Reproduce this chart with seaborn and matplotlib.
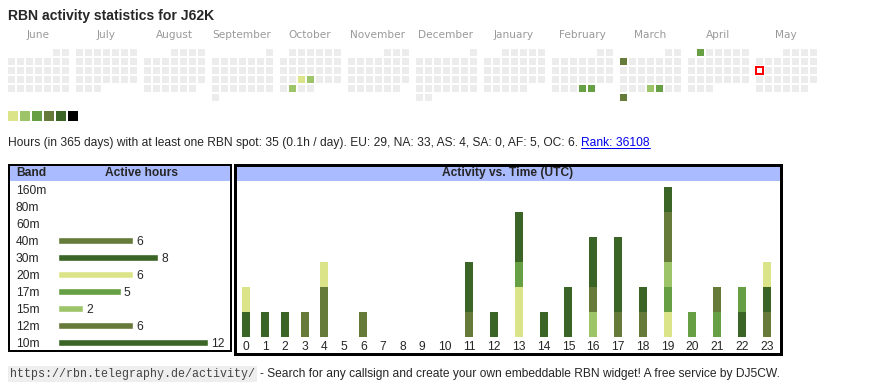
import datetime as dt
import calendar
import numpy as np
import pandas as pd
import matplotlib
matplotlib.use("Agg")
import matplotlib.pyplot as plt
from matplotlib.colors import ListedColormap
from matplotlib.patches import Rectangle
from matplotlib.lines import Line2D
import seaborn as sns

# ------------------------------------------------------------------ data
callsign = "J62K"
month_labels = ["June", "July", "August", "September", "October", "November",
                "December", "January", "February", "March", "April", "May"]
first_year, first_month = 2024, 6
active_days = ["2024-10-23", "2024-10-24", "2024-10-29", "2025-02-27", "2025-02-28",
               "2025-03-03", "2025-03-27", "2025-03-28", "2025-03-31", "2025-04-01"]
active_levels = [1, 2, 2, 3, 3, 4, 2, 3, 4, 3]
today = "2025-05-12"
level_colors = ["#dce48a", "#9ec46a", "#67a044", "#667a3a", "#3b6526", "#000000"]
empty_color = "#ececec"

info_text = ("Hours (in 365 days) with at least one RBN spot: 35 (0.1h / day). "
             "EU: 29, NA: 33, AS: 4, SA: 0, AF: 5, OC: 6.")
rank_text = "Rank: 36108"

bands = ["160m", "80m", "60m", "40m", "30m", "20m", "17m", "15m", "12m", "10m"]
band_hours = [0, 0, 0, 6, 8, 6, 5, 2, 6, 12]
band_colors = ["#dce48a", "#9ec46a", "#67a044", "#667a3a", "#3b6526",
               "#dce48a", "#67a044", "#9ec46a", "#667a3a", "#3b6526"]

hour_labels = [str(h) for h in range(24)]
#          0  1  2  3  4  5  6  7  8  9 10 11 12 13 14 15 16 17 18 19 20 21 22 23
act_160m = [0, 0, 0, 0, 0, 0, 0, 0, 0, 0, 0, 0, 0, 0, 0, 0, 0, 0, 0, 0, 0, 0, 0, 0]
act_80m  = [0, 0, 0, 0, 0, 0, 0, 0, 0, 0, 0, 0, 0, 0, 0, 0, 0, 0, 0, 0, 0, 0, 0, 0]
act_60m  = [0, 0, 0, 0, 0, 0, 0, 0, 0, 0, 0, 0, 0, 0, 0, 0, 0, 0, 0, 0, 0, 0, 0, 0]
act_40m  = [0, 0, 0, 1, 2, 0, 1, 0, 0, 0, 0, 0, 0, 0, 0, 0, 0, 0, 1, 0, 0, 0, 0, 1]
act_30m  = [1, 1, 1, 0, 0, 0, 0, 0, 0, 0, 0, 0, 1, 0, 1, 0, 0, 0, 1, 0, 0, 0, 1, 1]
act_20m  = [1, 0, 0, 0, 1, 0, 0, 0, 0, 0, 0, 0, 0, 2, 0, 0, 0, 0, 0, 1, 0, 0, 0, 1]
act_17m  = [0, 0, 0, 0, 0, 0, 0, 0, 0, 0, 0, 0, 0, 1, 0, 0, 0, 0, 0, 1, 1, 1, 1, 0]
act_15m  = [0, 0, 0, 0, 0, 0, 0, 0, 0, 0, 0, 0, 0, 0, 0, 0, 1, 0, 0, 1, 0, 0, 0, 0]
act_12m  = [0, 0, 0, 0, 0, 0, 0, 0, 0, 0, 0, 1, 0, 0, 0, 0, 1, 1, 0, 2, 0, 1, 0, 0]
act_10m  = [0, 0, 0, 0, 0, 0, 0, 0, 0, 0, 0, 2, 0, 2, 0, 2, 2, 3, 0, 1, 0, 0, 0, 0]
activity = [act_160m, act_80m, act_60m, act_40m, act_30m,
            act_20m, act_17m, act_15m, act_12m, act_10m]

footer_url = "https://rbn.telegraphy.de/activity/"
footer_text = "- Search for any callsign and create your own embeddable RBN widget! A free service by DJ5CW."

# ------------------------------------------------------------------ setup
sns.set_style("white")
plt.rcParams["font.family"] = ["Liberation Sans", "DejaVu Sans"]

W, H = 870, 390
PT = 0.72  # points per pixel at dpi 100
fig = plt.figure(figsize=(W / 100, H / 100), dpi=100)
fig.patch.set_facecolor("white")


def fx(x):
    return x / W


def fy(y):
    return 1 - y / H


def rect(l, t, w, h):
    return [l / W, 1 - (t + h) / H, w / W, h / H]


renderer = fig.canvas.get_renderer()

# title
fig.text(fx(8), fy(20), f"RBN activity statistics for {callsign}",
         fontsize=14 * PT, fontweight="bold", va="baseline", ha="left")

# ------------------------------------------------------------------ calendar
cmap = ListedColormap([empty_color] + level_colors)
level_by_day = {dt.date.fromisoformat(d): lv for d, lv in zip(active_days, active_levels)}
today_d = dt.date.fromisoformat(today)
CELL = 9
for m, label in enumerate(month_labels):
    year = first_year + (first_month - 1 + m) // 12
    month = (first_month - 1 + m) % 12 + 1
    fw = dt.date(year, month, 1).weekday()
    nd = calendar.monthrange(year, month)[1]
    grid = np.full((6, 7), np.nan)
    today_cell = None
    for d in range(1, nd + 1):
        r, c = divmod(fw + d - 1, 7)
        day = dt.date(year, month, d)
        grid[r, c] = level_by_day.get(day, 0)
        if day == today_d:
            today_cell = (r, c)
    left = 7 + m * 68
    ax = fig.add_axes(rect(left, 48, 7 * CELL, 6 * CELL))
    sns.heatmap(grid, mask=np.isnan(grid), cmap=cmap, vmin=-0.5, vmax=6.5,
                cbar=False, linewidths=2 * PT, linecolor="white",
                xticklabels=False, yticklabels=False, ax=ax)
    ax.set_axis_off()
    if today_cell is not None:
        r, c = today_cell
        ax.add_patch(Rectangle((c + 0.5 - 0.36, r + 0.5 - 0.36), 0.72, 0.72,
                               facecolor="white", edgecolor="red", lw=2 * PT))
    fig.text(fx(left + 7 * CELL / 2 - 0.5), fy(35.5), label, fontsize=10.5 * PT,
             color="#9a9a9a", ha="center", va="center",
             family=["DejaVu Sans"])

# legend squares
axl = fig.add_axes(rect(7, 109.7, 6 * 12, 12))
sns.heatmap(np.array([[1, 2, 3, 4, 5, 6]]), cmap=cmap, vmin=-0.5, vmax=6.5, cbar=False,
            linewidths=2 * PT, linecolor="white", xticklabels=False, yticklabels=False, ax=axl)
axl.set_axis_off()

# info line
t_info = fig.text(fx(8), fy(146), info_text + " ", fontsize=12 * PT, va="baseline", ha="left")
bb = t_info.get_window_extent(renderer)
t_rank = fig.text(bb.x1 / W, fy(146), rank_text, fontsize=12 * PT, va="baseline",
                  ha="left", color="#0000ee")
bb2 = t_rank.get_window_extent(renderer)
fig.add_artist(Line2D([bb2.x0 / W, bb2.x1 / W], [fy(147.5), fy(147.5)],
                      transform=fig.transFigure, color="#0000ee", lw=1 * PT))

# ------------------------------------------------------------------ band table
HDR = "#aabbff"
fig.add_artist(Rectangle((fx(10), fy(181)), 220 / W, 15 / H, transform=fig.transFigure,
                         facecolor=HDR, edgecolor="none"))
fig.add_artist(Rectangle((fx(9), fy(351)), 222 / W, 186 / H, transform=fig.transFigure,
                         facecolor="none", edgecolor="black", lw=2 * PT))
fig.text(fx(16), fy(173), "Band", fontsize=12 * PT, fontweight="bold", va="center", ha="left")
fig.text(fx(141.5), fy(173), "Active hours", fontsize=12 * PT, fontweight="bold",
         va="center", ha="center")

ROW = 17
UNIT_B = 12.5
axb = fig.add_axes(rect(58, 189.3 - ROW / 2, 170, ROW * len(bands)))
bdf = pd.DataFrame({"band": bands, "hours": band_hours})
sns.barplot(data=bdf, x="hours", y="band", hue="band", palette=band_colors, legend=False,
            orient="h", width=7 / ROW, saturation=1, ax=axb)
axb.set_xlim(0, 170 / UNIT_B)
axb.set_ylim(len(bands) - 0.5, -0.5)
for cont, v in zip(axb.containers, band_hours):
    labs = axb.bar_label(cont, labels=[str(v) if v else ""], padding=3 * PT, fontsize=12 * PT)
    for t in labs:
        t.set_verticalalignment("center_baseline")
axb.set_xlabel("")
axb.set_ylabel("")
axb.set_xticks([])
axb.tick_params(axis="y", length=0, pad=42 * PT, labelsize=12 * PT)
for lab in axb.get_yticklabels():
    lab.set_horizontalalignment("left")
for s in axb.spines.values():
    s.set_visible(False)
axb.patch.set_alpha(0)

# ------------------------------------------------------------------ activity chart
fig.add_artist(Rectangle((fx(236), fy(181)), 544 / W, 15 / H, transform=fig.transFigure,
                         facecolor=HDR, edgecolor="none"))
fig.add_artist(Rectangle((fx(234.5), fy(353.5)), 547 / W, 189 / H, transform=fig.transFigure,
                         facecolor="none", edgecolor="black", lw=3 * PT))
fig.text(fx(507.5), fy(173), "Activity vs. Time (UTC)", fontsize=12 * PT, fontweight="bold",
         va="center", ha="center")

# table-like column widths: wider columns for two-digit labels
col_w = np.array([14.4 + 5.2 * len(h) for h in hour_labels])
centers = np.cumsum(col_w) - col_w / 2
UNIT_A = 25
axa = fig.add_axes(rect(236, 181, col_w.sum(), 337 - 181))
bottom = np.zeros(24)
for vals, col in zip(activity, band_colors):
    vals = np.array(vals, dtype=float)
    axa.bar(centers, vals, width=8, bottom=bottom, color=col, linewidth=0)
    bottom += vals
axa.set_xlim(0, col_w.sum())
axa.set_ylim(0, (337 - 181) / UNIT_A)
axa.set_xticks(centers)
axa.set_xticklabels(hour_labels)
axa.set_yticks([])
axa.tick_params(axis="x", length=0, pad=3.5 * PT, labelsize=12 * PT)
for s in axa.spines.values():
    s.set_visible(False)
axa.patch.set_alpha(0)

# ------------------------------------------------------------------ footer
t_url = fig.text(fx(10), fy(374), footer_url, fontsize=11.6 * PT, family=["Liberation Mono"],
                 color="#444444", va="center", ha="left",
                 bbox=dict(facecolor="#eeeeee", edgecolor="none", pad=1.5))
bb3 = t_url.get_window_extent(renderer)
fig.text((bb3.x1 + 5) / W, fy(374), footer_text, fontsize=12 * PT,
         family=["Liberation Sans"], va="center", ha="left")

fig.savefig("out.png", dpi=100)
